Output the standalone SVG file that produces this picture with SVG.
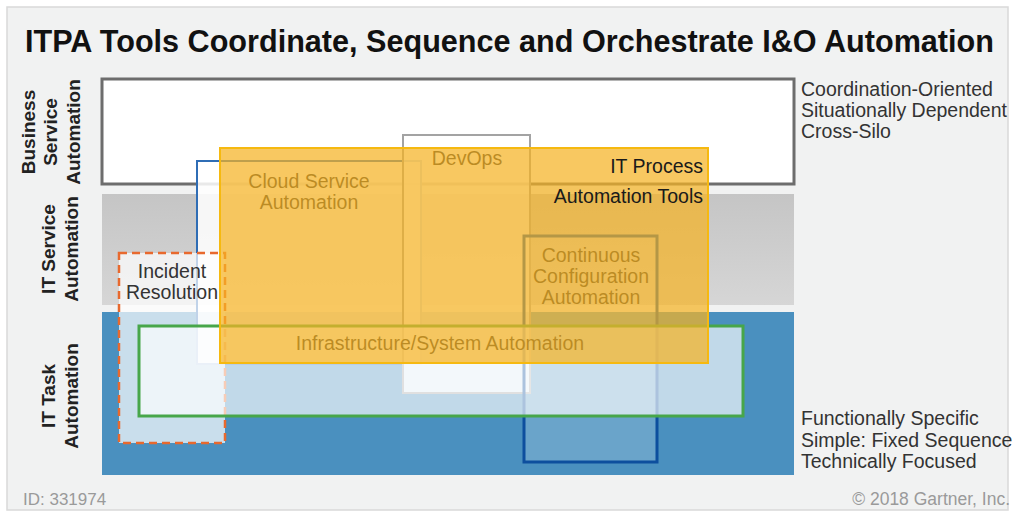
<svg xmlns="http://www.w3.org/2000/svg" width="1018" height="515" viewBox="0 0 1018 515">
<defs>
<linearGradient id="gGray" x1="0" y1="0" x2="0" y2="1">
<stop offset="0" stop-color="#c5c5c5"/>
<stop offset="1" stop-color="#d6d6d6"/>
</linearGradient>
</defs>
<style>
text{font-family:"Liberation Sans",Arial,sans-serif}
.title{font-size:30.6px;font-weight:bold;fill:#111}
.lbl{font-size:19px;font-weight:bold;fill:#222}
.side{font-size:19.5px;fill:#333}
.node{font-size:19.5px;fill:#262626;text-anchor:middle}
.foot{font-size:17px;fill:#9a9a9a}
.dark{font-size:19.5px;fill:#1a1a1a;text-anchor:end}
</style>
<rect x="0" y="0" width="1018" height="515" fill="#ffffff"/>
<rect x="7" y="7" width="1001" height="503" fill="#f1f2f2" stroke="#d9d9d9" stroke-width="1.5"/>
<text class="title" x="25" y="52">ITPA Tools Coordinate, Sequence and Orchestrate I&amp;O Automation</text>

<g id="bands">
<g id="business-service">
<rect x="102" y="79" width="692" height="105" fill="#ffffff" stroke="#6d6d6d" stroke-width="3"/>
<text class="lbl" transform="translate(35,132) rotate(-90)" text-anchor="middle">Business</text>
<text class="lbl" transform="translate(57,132) rotate(-90)" text-anchor="middle">Service</text>
<text class="lbl" transform="translate(80,132) rotate(-90)" text-anchor="middle">Automation</text>
<text class="side" x="801" y="96">Coordination-Oriented</text>
<text class="side" x="801" y="117">Situationally Dependent</text>
<text class="side" x="801" y="138">Cross-Silo</text>
</g>
<g id="it-service">
<rect x="102" y="194" width="692" height="111" fill="url(#gGray)"/>
<text class="lbl" transform="translate(55,249) rotate(-90)" text-anchor="middle">IT Service</text>
<text class="lbl" transform="translate(78,249) rotate(-90)" text-anchor="middle">Automation</text>
</g>
<g id="it-task">
<rect x="102" y="312" width="692" height="163" fill="#4a90bf"/>
<text class="lbl" transform="translate(55,396) rotate(-90)" text-anchor="middle">IT Task</text>
<text class="lbl" transform="translate(78,396) rotate(-90)" text-anchor="middle">Automation</text>
<text class="side" x="801" y="425">Functionally Specific</text>
<text class="side" x="801" y="447">Simple: Fixed Sequence</text>
<text class="side" x="801" y="468">Technically Focused</text>
</g>
</g>

<g id="cloud-service">
<rect x="197" y="161" width="224" height="203" fill="#ffffff" fill-opacity="0.85" stroke="#2f6db5" stroke-width="2"/>
<text class="node" x="309" y="188">Cloud Service</text>
<text class="node" x="309" y="209">Automation</text>
</g>
<g id="devops">
<rect x="403" y="135" width="127" height="258" fill="#ffffff" fill-opacity="0.8" stroke="#a3a3a3" stroke-width="2"/>
<text class="node" x="467" y="165">DevOps</text>
</g>
<g id="continuous-config">
<rect x="524" y="236" width="133" height="226" fill="#ffffff" fill-opacity="0.18" stroke="#0d4f9e" stroke-width="3"/>
<text class="node" x="591" y="262">Continuous</text>
<text class="node" x="591" y="283">Configuration</text>
<text class="node" x="591" y="304">Automation</text>
</g>
<g id="incident">
<rect x="119" y="253" width="106" height="190" fill="#ffffff" fill-opacity="0.7" stroke="#e8692e" stroke-width="2.5" stroke-dasharray="8,5"/>
<text x="172" y="278" style="font-size:19.5px;fill:#333;text-anchor:middle">Incident</text>
<text x="172" y="299" style="font-size:19.5px;fill:#333;text-anchor:middle">Resolution</text>
</g>
<g id="infrastructure">
<rect x="139" y="326" width="604" height="90" fill="#ffffff" fill-opacity="0.66" stroke="#47a64a" stroke-width="3"/>
<text class="node" x="440" y="350">Infrastructure/System Automation</text>
</g>
<g id="itpa-tools">
<rect x="220" y="148" width="488" height="215" fill="#f5b324" fill-opacity="0.72" stroke="#f6b910" stroke-width="2"/>
<text class="dark" x="703" y="173">IT Process</text>
<text class="dark" x="703" y="203">Automation Tools</text>
</g>
<g id="connectors"></g>

<text class="foot" x="23" y="505">ID: 331974</text>
<text class="foot" x="1010" y="505" text-anchor="end" style="font-size:17.5px">© 2018 Gartner, Inc.</text>
</svg>
